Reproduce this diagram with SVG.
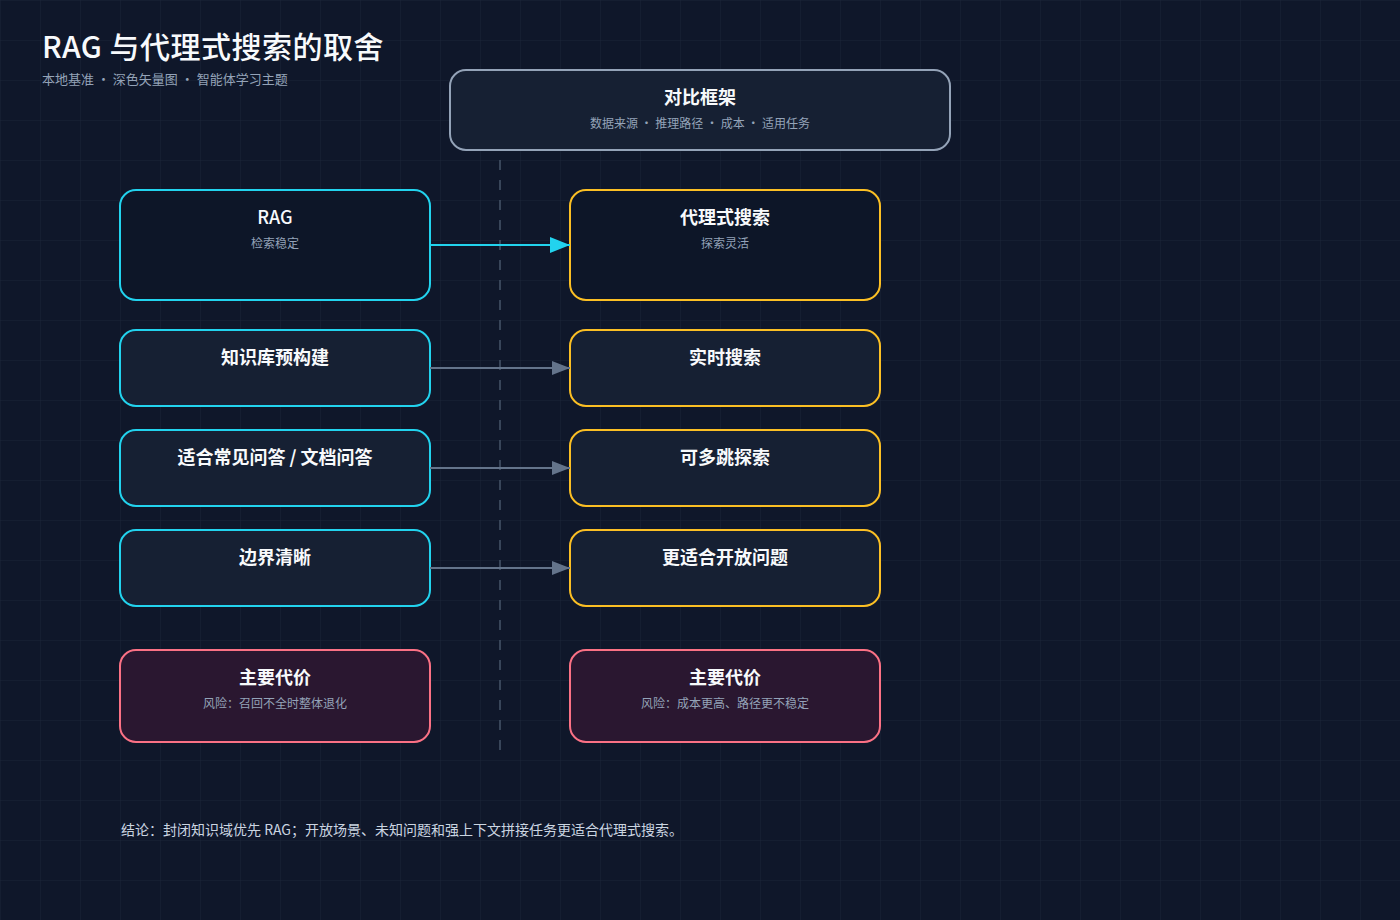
<svg xmlns="http://www.w3.org/2000/svg" width="1400" height="920" viewBox="0 0 1400 920">
<defs>
<pattern id="grid" width="40" height="40" patternUnits="userSpaceOnUse">
<path d="M40 0 L0 0 0 40" fill="none" stroke="#1b2538" stroke-width="1"/>
</pattern>
<marker id="ac" viewBox="0 0 20 16" refX="20" refY="8" markerWidth="20" markerHeight="16" markerUnits="userSpaceOnUse" orient="auto"><path d="M0 0 L20 8 L0 16 Z" fill="#22d3ee"/></marker>
<marker id="ag" viewBox="0 0 18 14" refX="18" refY="7" markerWidth="18" markerHeight="14" markerUnits="userSpaceOnUse" orient="auto"><path d="M0 0 L18 7 L0 14 Z" fill="#64748b"/></marker>
<style>
text{font-family:"Noto Sans CJK SC","Liberation Sans",sans-serif}
.t{fill:#f8fafc;font-size:18px;font-weight:700;text-anchor:middle}
.s{fill:#94a3b8;font-size:12px;text-anchor:middle}
.c{stroke:#22d3ee;stroke-width:2}
.y{stroke:#fbbf24;stroke-width:2}
.r{stroke:#fb7185;stroke-width:2;fill:#2a1730}
.dk{fill:#0d1628}
.lt{fill:#162033}
</style>
</defs>
<rect width="1400" height="920" fill="#0f172a"/>
<rect width="1400" height="920" fill="url(#grid)"/>
<text x="42" y="58" font-size="30" font-weight="500" fill="#f8fafc" letter-spacing="0.5">RAG 与代理式搜索的取舍</text>
<text x="42" y="84" font-size="13" fill="#94a3b8">本地基准 · 深色矢量图 · 智能体学习主题</text>
<line x1="500" y1="160" x2="500" y2="750" stroke="#475569" stroke-width="1.5" stroke-dasharray="10 10"/>
<g id="frame">
<rect x="450" y="70" width="500" height="80" rx="16" fill="#162033" stroke="#94a3b8" stroke-width="2"/>
<text class="t" x="700" y="104">对比框架</text>
<text class="s" x="700" y="128">数据来源 · 推理路径 · 成本 · 适用任务</text>
</g>
<g id="rag">
<rect class="c dk" x="120" y="190" width="310" height="110" rx="16"/>
<text class="t" x="275" y="224" style="font-weight:500">RAG</text>
<text class="s" x="275" y="248">检索稳定</text>
</g>
<g id="agent">
<rect class="y dk" x="570" y="190" width="310" height="110" rx="16"/>
<text class="t" x="725" y="224">代理式搜索</text>
<text class="s" x="725" y="248">探索灵活</text>
</g>
<g id="l1"><rect class="c lt" x="120" y="330" width="310" height="76" rx="16"/><text class="t" x="275" y="364">知识库预构建</text></g>
<g id="r1"><rect class="y lt" x="570" y="330" width="310" height="76" rx="16"/><text class="t" x="725" y="364">实时搜索</text></g>
<g id="l2"><rect class="c lt" x="120" y="430" width="310" height="76" rx="16"/><text class="t" x="275" y="464">适合常见问答 / 文档问答</text></g>
<g id="r2"><rect class="y lt" x="570" y="430" width="310" height="76" rx="16"/><text class="t" x="725" y="464">可多跳探索</text></g>
<g id="l3"><rect class="c lt" x="120" y="530" width="310" height="76" rx="16"/><text class="t" x="275" y="564">边界清晰</text></g>
<g id="r3"><rect class="y lt" x="570" y="530" width="310" height="76" rx="16"/><text class="t" x="725" y="564">更适合开放问题</text></g>
<g id="costL"><rect class="r" x="120" y="650" width="310" height="92" rx="16"/><text class="t" x="275" y="684">主要代价</text><text class="s" x="275" y="708">风险：召回不全时整体退化</text></g>
<g id="costR"><rect class="r" x="570" y="650" width="310" height="92" rx="16"/><text class="t" x="725" y="684">主要代价</text><text class="s" x="725" y="708">风险：成本更高、路径更不稳定</text></g>
<g id="connectors" fill="none">
<line x1="430" y1="245" x2="570" y2="245" stroke="#22d3ee" stroke-width="2" marker-end="url(#ac)"/>
<line x1="430" y1="368" x2="570" y2="368" stroke="#64748b" stroke-width="2" marker-end="url(#ag)"/>
<line x1="430" y1="468" x2="570" y2="468" stroke="#64748b" stroke-width="2" marker-end="url(#ag)"/>
<line x1="430" y1="568" x2="570" y2="568" stroke="#64748b" stroke-width="2" marker-end="url(#ag)"/>
</g>
<text x="121" y="835" font-size="14" fill="#cbd5e1">结论：封闭知识域优先 RAG；开放场景、未知问题和强上下文拼接任务更适合代理式搜索。</text>
</svg>
